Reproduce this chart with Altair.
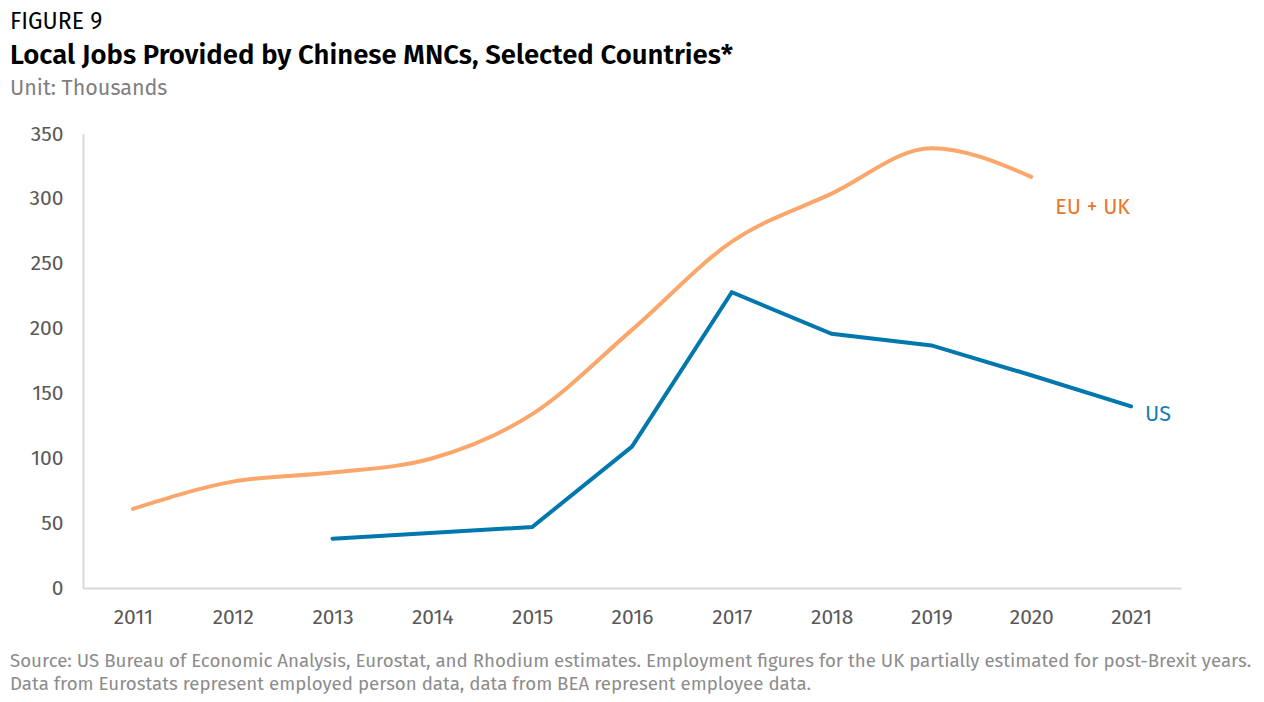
import altair as alt
import pandas as pd

FONT = "Fira Sans, Open Sans, sans-serif"

years_eu = [2011, 2012, 2013, 2014, 2015, 2016, 2017, 2018, 2019, 2020]
eu_uk = [61, 82, 89, 100, 134, 199, 267, 304, 339, 317]

years_us = [2013, 2015, 2016, 2017, 2018, 2019, 2020, 2021]
us = [38, 47, 109, 228, 196, 187, 164, 140]

x_ticks = list(range(2011, 2022))
y_ticks = [0, 50, 100, 150, 200, 250, 300, 350]

fig_label = "FIGURE 9"
title = "Local Jobs Provided by Chinese MNCs, Selected Countries*"
subtitle = "Unit: Thousands"
source1 = "Source: US Bureau of Economic Analysis, Eurostat, and Rhodium estimates. Employment figures for the UK partially estimated for post-Brexit years."
source2 = "Data from Eurostats represent employed person data, data from BEA represent employee data."

ORANGE = "#FBA66A"
ORANGE_TXT = "#E8772E"
BLUE = "#0077AD"
BLUE_TXT = "#1A7DB5"

eu_df = pd.DataFrame({"year": years_eu, "value": eu_uk})
us_df = pd.DataFrame({"year": years_us, "value": us})

xscale = alt.Scale(domain=[2010.5, 2021.5], nice=False, zero=False)
yscale = alt.Scale(domain=[0, 350], nice=False)

x_axis = alt.Axis(values=x_ticks, format="d", title=None, grid=False, ticks=False,
                  domainColor="#D9D9D9", domainWidth=2, labelFontSize=21,
                  labelColor="#595959", labelFont=FONT, labelPadding=18)
y_axis = alt.Axis(values=y_ticks, title=None, grid=False, ticks=False,
                  domainColor="#D9D9D9", domainWidth=2, labelFontSize=21,
                  labelColor="#595959", labelFont=FONT, labelPadding=20)

eu_line = alt.Chart(eu_df).mark_line(color=ORANGE, strokeWidth=4, interpolate="monotone",
                                     strokeCap="round").encode(
    x=alt.X("year:Q", scale=xscale, axis=x_axis),
    y=alt.Y("value:Q", scale=yscale, axis=y_axis),
)
us_line = alt.Chart(us_df).mark_line(color=BLUE, strokeWidth=4, strokeCap="round").encode(
    x=alt.X("year:Q", scale=xscale),
    y=alt.Y("value:Q", scale=yscale),
)

lab_df = pd.DataFrame({"year": [2020, 2021], "value": [293, 133], "name": ["EU + UK", "US"]})
eu_lab = alt.Chart(lab_df.iloc[[0]]).mark_text(align="left", baseline="middle", dx=24,
                                                fontSize=21.5, font=FONT, color=ORANGE_TXT).encode(
    x=alt.X("year:Q", scale=xscale), y=alt.Y("value:Q", scale=yscale), text="name:N")
us_lab = alt.Chart(lab_df.iloc[[1]]).mark_text(align="left", baseline="middle", dx=14,
                                                fontSize=21.5, font=FONT, color=BLUE_TXT).encode(
    x=alt.X("year:Q", scale=xscale), y=alt.Y("value:Q", scale=yscale), text="name:N")


def txt(s, x, y, size, color, weight="normal"):
    return alt.Chart(pd.DataFrame({"t": [s]})).mark_text(
        align="left", baseline="alphabetic", fontSize=size, font=FONT, color=color,
        fontWeight=weight).encode(text="t:N", x=alt.value(x), y=alt.value(y))


texts = [
    txt(fig_label, -73, -105, 23, "#000000"),
    txt(title, -73, -70, 27.5, "#000000", 600),
    txt(subtitle, -73, -39, 21.5, "#7F7F7F"),
    txt(source1, -73, 533, 18.7, "#8C8C8C"),
    txt(source2, -73, 556, 18.7, "#8C8C8C"),
]

chart = alt.layer(eu_line, us_line, eu_lab, us_lab, *texts).properties(
    width=1098, height=454,
    background="white",
    autosize=alt.AutoSizeParams(type="none"),
    padding={"left": 75, "top": 126, "right": 75, "bottom": 106},
).configure_view(strokeWidth=0)

chart.save("out.html", embed_options={"renderer": "svg", "actions": False})
